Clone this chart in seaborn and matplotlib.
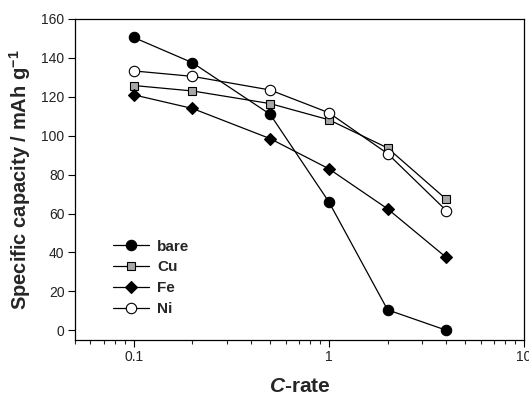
import pandas as pd
import seaborn as sns
import matplotlib.pyplot as plt
from matplotlib.ticker import LogLocator, FixedLocator, NullFormatter

sns.set_theme(style="ticks")
plt.rcParams["font.family"] = ["Liberation Sans", "DejaVu Sans"]
plt.rcParams["mathtext.fontset"] = "custom"
plt.rcParams["mathtext.rm"] = "Liberation Sans"
plt.rcParams["mathtext.bf"] = "Liberation Sans:bold"
plt.rcParams["mathtext.it"] = "Liberation Sans:italic"
plt.rcParams["mathtext.bfit"] = "Liberation Sans:bold:italic"

c_rate = [0.1, 0.2, 0.5, 1, 2, 4]
bare = [150.5, 137.5, 111, 66, 10.5, 0]
cu = [125.8, 123, 116.5, 108.2, 93.7, 67.3]
fe = [121, 114, 98.5, 83, 62.4, 37.4]
ni = [133.3, 130.5, 123.5, 111.8, 90.8, 61.5]

series = {"bare": bare, "Cu": cu, "Fe": fe, "Ni": ni}
markers = {"bare": "o", "Cu": "s", "Fe": "D", "Ni": "o"}
faces = {"bare": "black", "Cu": "#a8a8a8", "Fe": "black", "Ni": "white"}
sizes = {"bare": 7.5, "Cu": 6, "Fe": 6.3, "Ni": 7.5}

fig = plt.figure(figsize=(5.29, 3.97), dpi=100)
ax = fig.add_axes([0.1418, 0.1436, 0.8487, 0.8086])

for name, vals in series.items():
    df = pd.DataFrame({"x": c_rate, "y": vals})
    sns.lineplot(data=df, x="x", y="y", ax=ax, color="black", linewidth=0.9,
                 marker=markers[name], markersize=sizes[name],
                 markerfacecolor=faces[name], markeredgecolor="black",
                 markeredgewidth=0.8, label=name)

ax.set_xscale("log")
ax.set_xlim(0.05, 10)
ax.set_ylim(-5, 160)
ax.set_yticks(range(0, 161, 20))
ax.xaxis.set_major_locator(FixedLocator([0.1, 1, 10]))
ax.set_xticklabels(["0.1", "1", "10"])
ax.xaxis.set_minor_locator(LogLocator(base=10, subs=range(2, 10)))
ax.xaxis.set_minor_formatter(NullFormatter())
ax.tick_params(axis="both", which="major", direction="out", length=5, width=0.8,
               labelsize=10, pad=2.5, colors="black", labelcolor="#222222")
ax.tick_params(axis="x", which="minor", direction="out", length=3, width=0.8)
for s in ax.spines.values():
    s.set_color("black")
    s.set_linewidth(0.9)

ax.set_xlabel(r"$\mathbfit{C}$-rate", fontsize=15, fontweight="bold", labelpad=9)
ax.set_ylabel(r"Specific capacity / mAh g$^{\mathbf{-1}}$", fontsize=14.5,
              fontweight="bold", labelpad=6)

leg = ax.legend(loc="lower left", bbox_to_anchor=(0.072, 0.055), frameon=False,
                handlelength=2.3, handletextpad=0.55, labelspacing=0.45,
                borderaxespad=0, prop={"weight": "bold", "size": 11})

fig.savefig("out.png", dpi=100)
